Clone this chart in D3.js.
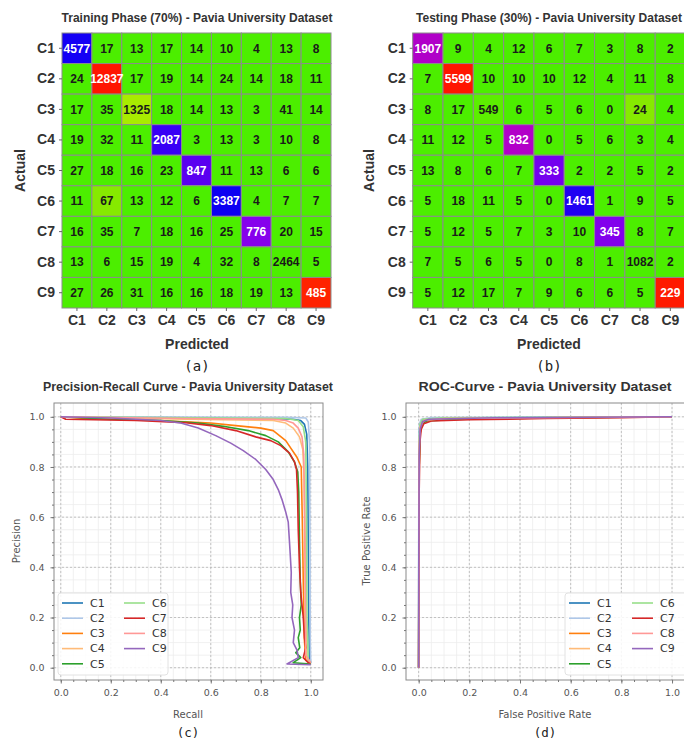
<!DOCTYPE html>
<html>
<head>
<meta charset="utf-8">
<script src="https://cdn.jsdelivr.net/npm/d3@7/dist/d3.min.js"></script>
<style>
  body { margin: 0; background: #fff; }
  svg { display: block; }
</style>
</head>
<body>
<svg id="fig" width="684" height="742"></svg>
<script>
var classes = ["C1", "C2", "C3", "C4", "C5", "C6", "C7", "C8", "C9"];

// confusion matrices, rows = actual, cols = predicted
var trainMatrix = [
  [4577, 17, 13, 17, 14, 10, 4, 13, 8],
  [24, 12837, 17, 19, 14, 24, 14, 18, 11],
  [17, 35, 1325, 18, 14, 13, 3, 41, 14],
  [19, 32, 11, 2087, 3, 13, 3, 10, 8],
  [27, 18, 16, 23, 847, 11, 13, 6, 6],
  [11, 67, 13, 12, 6, 3387, 4, 7, 7],
  [16, 35, 7, 18, 16, 25, 776, 20, 15],
  [13, 6, 15, 19, 4, 32, 8, 2464, 5],
  [27, 26, 31, 16, 16, 18, 19, 13, 485]
];
var testMatrix = [
  [1907, 9, 4, 12, 6, 7, 3, 8, 2],
  [7, 5599, 10, 10, 10, 12, 4, 11, 8],
  [8, 17, 549, 6, 5, 6, 0, 24, 4],
  [11, 12, 5, 832, 0, 5, 6, 3, 4],
  [13, 8, 6, 7, 333, 2, 2, 5, 2],
  [5, 18, 11, 5, 0, 1461, 1, 9, 5],
  [5, 12, 5, 7, 3, 10, 345, 8, 7],
  [7, 5, 6, 5, 0, 8, 1, 1082, 2],
  [5, 12, 17, 7, 9, 6, 6, 5, 229]
];

// diagonal cell colours as they come out of the original colormap
var trainDiagColors = ["#1400f5", "#ff1500", "#a8ec00", "#3800f5", "#5a00f0", "#0c00f2", "#8600ec", "#4cee00", "#ff2200"];
var testDiagColors = ["#b000c8", "#ff1500", "#5cee00", "#b200c8", "#7400ee", "#2000f2", "#8200ec", "#4cee00", "#ff1a00"];
var trainOffThreshold = 50;
var testOffThreshold = 20;

var tickVals = [0, 0.2, 0.4, 0.6, 0.8, 1.0];
var seriesColors = ["#1f77b4", "#aec7e8", "#ff7f0e", "#ffbb78", "#2ca02c", "#98df8a", "#d62728", "#ff9896", "#9467bd"];

// precision-recall points [recall, precision]
var prC1 = [[0, 1], [0.2, 0.998], [0.5, 0.996], [0.8, 0.994], [0.93, 0.99], [0.96, 0.985], [0.975, 0.97], [0.984, 0.93], [0.988, 0.8], [0.99, 0.5], [0.992, 0.2], [0.995, 0.04], [1, 0.02]];
var prC2 = [[0, 1], [0.5, 0.999], [0.9, 0.998], [0.98, 0.995], [0.99, 0.98], [0.995, 0.9], [0.997, 0.5], [0.998, 0.1], [1, 0.02]];
var prC3 = [[0, 1], [0.1, 0.993], [0.3, 0.988], [0.5, 0.98], [0.6, 0.975], [0.7, 0.965], [0.8, 0.955], [0.85, 0.945], [0.9, 0.905], [0.944, 0.84], [0.962, 0.8], [0.966, 0.6], [0.97, 0.35], [0.974, 0.12], [0.98, 0.03], [1, 0.02]];
var prC4 = [[0, 1], [0.5, 0.99], [0.85, 0.985], [0.9, 0.975], [0.93, 0.955], [0.955, 0.92], [0.968, 0.87], [0.974, 0.75], [0.978, 0.5], [0.98, 0.2], [0.985, 0.03], [1, 0.02]];
var prC5 = [[0, 1], [0.2, 0.99], [0.4, 0.985], [0.55, 0.975], [0.65, 0.962], [0.75, 0.945], [0.82, 0.925], [0.87, 0.9], [0.91, 0.86], [0.935, 0.82], [0.948, 0.78], [0.952, 0.7], [0.955, 0.5], [0.958, 0.35], [0.962, 0.25], [0.955, 0.2], [0.958, 0.15], [0.95, 0.12], [0.956, 0.08], [0.94, 0.06], [0.96, 0.04], [0.93, 0.02], [1, 0.015]];
var prC6 = [[0, 1], [0.5, 0.996], [0.9, 0.993], [0.95, 0.985], [0.97, 0.96], [0.98, 0.9], [0.983, 0.6], [0.985, 0.2], [0.99, 0.03], [1, 0.02]];
var prC7 = [[0, 1], [0.02, 0.99], [0.3, 0.985], [0.5, 0.976], [0.6, 0.965], [0.7, 0.945], [0.78, 0.92], [0.84, 0.905], [0.88, 0.885], [0.915, 0.855], [0.935, 0.82], [0.943, 0.79], [0.947, 0.7], [0.95, 0.55], [0.955, 0.4], [0.96, 0.3], [0.97, 0.2], [0.975, 0.12], [0.98, 0.08], [0.97, 0.04], [0.99, 0.02], [1, 0.02]];
var prC8 = [[0, 1], [0.5, 0.993], [0.85, 0.99], [0.9, 0.985], [0.93, 0.975], [0.95, 0.955], [0.965, 0.92], [0.972, 0.85], [0.975, 0.6], [0.978, 0.3], [0.98, 0.05], [1, 0.02]];
var prC9 = [[0, 1], [0.2, 0.995], [0.4, 0.985], [0.48, 0.975], [0.55, 0.955], [0.62, 0.925], [0.68, 0.895], [0.73, 0.865], [0.78, 0.83], [0.82, 0.79], [0.85, 0.75], [0.87, 0.71], [0.885, 0.67], [0.9, 0.62], [0.91, 0.58], [0.915, 0.5], [0.918, 0.45], [0.922, 0.38], [0.92, 0.3], [0.928, 0.25], [0.925, 0.2], [0.935, 0.15], [0.93, 0.1], [0.945, 0.07], [0.95, 0.04], [0.905, 0.015], [1, 0.012]];

// roc points [fpr, tpr]
var rocC1 = [[0, 0], [0.0005, 0.5], [0.001, 0.8], [0.003, 0.95], [0.008, 0.98], [0.02, 0.99], [0.1, 0.995], [0.5, 0.998], [1, 1]];
var rocC2 = [[0, 0], [0.0003, 0.6], [0.001, 0.9], [0.003, 0.97], [0.01, 0.99], [0.05, 0.997], [1, 1]];
var rocC3 = [[0, 0], [0.001, 0.5], [0.002, 0.8], [0.005, 0.93], [0.012, 0.97], [0.03, 0.985], [0.2, 0.993], [0.6, 0.997], [1, 1]];
var rocC4 = [[0, 0], [0.0008, 0.6], [0.002, 0.88], [0.006, 0.96], [0.02, 0.985], [0.1, 0.993], [1, 1]];
var rocC5 = [[0, 0], [0.001, 0.5], [0.002, 0.8], [0.005, 0.93], [0.012, 0.97], [0.03, 0.983], [0.2, 0.992], [0.6, 0.996], [1, 1]];
var rocC6 = [[0, 0], [0.0005, 0.6], [0.002, 0.9], [0.005, 0.97], [0.015, 0.99], [0.1, 0.996], [1, 1]];
var rocC7 = [[0, 0], [0.001, 0.35], [0.002, 0.7], [0.005, 0.9], [0.01, 0.95], [0.02, 0.972], [0.05, 0.983], [0.2, 0.988], [0.5, 0.993], [0.8, 0.996], [1, 1]];
var rocC8 = [[0, 0], [0.0008, 0.6], [0.002, 0.88], [0.006, 0.96], [0.02, 0.985], [0.1, 0.993], [1, 1]];
var rocC9 = [[0, 0], [0.0004, 0.4], [0.002, 0.85], [0.006, 0.95], [0.015, 0.98], [0.04, 0.99], [0.3, 0.996], [1, 1]];

var prSeries = [prC1, prC2, prC3, prC4, prC5, prC6, prC7, prC8, prC9];
var rocSeries = [rocC1, rocC2, rocC3, rocC4, rocC5, rocC6, rocC7, rocC8, rocC9];

var svg = d3.select("#fig");
var cmFont = "'Liberation Sans', Arial, sans-serif";
var mplFont = "'DejaVu Sans', sans-serif";

function drawMatrix(m, diagColors, threshold, box) {
  var g = svg.append("g");
  var x = d3.scaleBand().domain(classes).range([box.left, box.right]);
  var y = d3.scaleBand().domain(classes).range([box.top, box.bottom]);
  var offColor = d3.scaleThreshold().domain([threshold]).range(["#4cee00", "#86ea00"]);

  var cells = [];
  m.forEach(function(row, i) {
    row.forEach(function(v, j) {
      cells.push({ r: i, c: j, v: v });
    });
  });

  function fill(d) {
    return d.r === d.c ? diagColors[d.r] : offColor(d.v);
  }
  function light(col) {
    var hsl = d3.hsl(col);
    return hsl.h > 60 && hsl.h < 150;
  }

  g.selectAll("rect.cell")
    .data(cells)
    .enter().append("rect")
    .attr("class", "cell")
    .attr("x", function(d) { return x(classes[d.c]); })
    .attr("y", function(d) { return y(classes[d.r]); })
    .attr("width", x.bandwidth())
    .attr("height", y.bandwidth())
    .attr("fill", fill)
    .attr("stroke", "#8c8c8c")
    .attr("stroke-width", 1);

  g.selectAll("text.val")
    .data(cells)
    .enter().append("text")
    .attr("class", "val")
    .attr("x", function(d) { return x(classes[d.c]) + x.bandwidth() / 2; })
    .attr("y", function(d) { return y(classes[d.r]) + y.bandwidth() / 2; })
    .attr("dy", "0.36em")
    .attr("text-anchor", "middle")
    .style("font-family", cmFont)
    .style("font-weight", "bold")
    .style("font-size", "12px")
    .attr("fill", function(d) { return light(fill(d)) ? "#1a1a1a" : "#ffffff"; })
    .text(function(d) { return d.v; });

  var left = g.append("g")
    .attr("transform", "translate(" + box.left + ",0)")
    .call(d3.axisLeft(y).tickSize(3).tickPadding(4));
  var bottom = g.append("g")
    .attr("transform", "translate(0," + box.bottom + ")")
    .call(d3.axisBottom(x).tickSize(3).tickPadding(4));
  [left, bottom].forEach(function(a) {
    a.select(".domain").remove();
    a.selectAll("line").attr("stroke", "#666");
    a.selectAll("text")
      .style("font-family", cmFont)
      .style("font-weight", "bold")
      .style("font-size", "14px")
      .attr("fill", "#333");
  });

  g.append("text")
    .attr("x", box.titleX)
    .attr("y", 22)
    .attr("text-anchor", "middle")
    .style("font-family", cmFont)
    .style("font-weight", "bold")
    .style("font-size", "12px")
    .attr("fill", "#333")
    .text(box.title);

  g.append("text")
    .attr("x", box.titleX)
    .attr("y", 349)
    .attr("text-anchor", "middle")
    .style("font-family", cmFont)
    .style("font-weight", "bold")
    .style("font-size", "14px")
    .attr("fill", "#333")
    .text("Predicted");

  g.append("text")
    .attr("transform", "translate(" + box.ylabX + "," + (box.top + box.bottom) / 2 + ") rotate(-90)")
    .attr("text-anchor", "middle")
    .style("font-family", cmFont)
    .style("font-weight", "bold")
    .style("font-size", "14px")
    .attr("fill", "#333")
    .text("Actual");

  g.append("text")
    .attr("x", box.titleX)
    .attr("y", 371)
    .attr("text-anchor", "middle")
    .style("font-family", "'DejaVu Sans Mono', monospace")
    .style("font-size", "14px")
    .attr("fill", "#222")
    .text(box.tag);
}

drawMatrix(trainMatrix, trainDiagColors, trainOffThreshold, {
  left: 62, right: 331, top: 33, bottom: 308,
  titleX: 197, ylabX: 25, title: "Training Phase (70%) - Pavia University Dataset", tag: "(a)"
});
drawMatrix(testMatrix, testDiagColors, testOffThreshold, {
  left: 412.7, right: 685.5, top: 33, bottom: 308,
  titleX: 549, ylabX: 374, title: "Testing Phase (30%) - Pavia University Dataset", tag: "(b)"
});

function drawCurves(series, box) {
  var g = svg.append("g");
  var x = d3.scaleLinear().domain(box.xDomain).range([box.left, box.right]);
  var y = d3.scaleLinear().domain([-0.049, 1.055]).range([680, 403]);
  var minor = d3.range(0, 1.0001, 0.05);

  var clipId = "clip" + box.tag.replace(/[()]/g, "");
  g.append("clipPath").attr("id", clipId)
    .append("rect")
    .attr("x", box.left).attr("y", 403)
    .attr("width", box.right - box.left).attr("height", 277);

  // minor grid
  g.append("g").selectAll("line")
    .data(minor).enter().append("line")
    .attr("x1", function(d) { return x(d); }).attr("x2", function(d) { return x(d); })
    .attr("y1", 403).attr("y2", 680)
    .attr("stroke", "#ececec").attr("stroke-width", 0.8);
  g.append("g").selectAll("line")
    .data(minor).enter().append("line")
    .attr("y1", function(d) { return y(d); }).attr("y2", function(d) { return y(d); })
    .attr("x1", box.left).attr("x2", box.right)
    .attr("stroke", "#ececec").attr("stroke-width", 0.8);

  // major grid
  g.append("g").selectAll("line")
    .data(tickVals).enter().append("line")
    .attr("x1", function(d) { return x(d); }).attr("x2", function(d) { return x(d); })
    .attr("y1", 403).attr("y2", 680)
    .attr("stroke", "#b5b5b5").attr("stroke-width", 0.8).attr("stroke-dasharray", "2,2");
  g.append("g").selectAll("line")
    .data(tickVals).enter().append("line")
    .attr("y1", function(d) { return y(d); }).attr("y2", function(d) { return y(d); })
    .attr("x1", box.left).attr("x2", box.right)
    .attr("stroke", "#b5b5b5").attr("stroke-width", 0.8).attr("stroke-dasharray", "2,2");

  var line = d3.line()
    .x(function(d) { return x(d[0]); })
    .y(function(d) { return y(d[1]); });

  g.append("g")
    .attr("clip-path", "url(#" + clipId + ")")
    .selectAll("path")
    .data(series).enter().append("path")
    .attr("d", line)
    .attr("fill", "none")
    .attr("stroke", function(d, i) { return seriesColors[i]; })
    .attr("stroke-width", 1.6)
    .attr("stroke-linejoin", "round");

  g.append("rect")
    .attr("x", box.left).attr("y", 403)
    .attr("width", box.right - box.left).attr("height", 277)
    .attr("fill", "none").attr("stroke", "#8a8a8a").attr("stroke-width", 1);

  // axes with minor ticks
  var ax = g.append("g").attr("transform", "translate(0,680)")
    .call(d3.axisBottom(x).tickValues(tickVals).tickFormat(d3.format(".1f")).tickSize(3.5).tickPadding(6));
  var axm = g.append("g").attr("transform", "translate(0,680)")
    .call(d3.axisBottom(x).tickValues(minor).tickFormat("").tickSize(2));
  var ay = g.append("g").attr("transform", "translate(" + box.left + ",0)")
    .call(d3.axisLeft(y).tickValues(tickVals).tickFormat(d3.format(".1f")).tickSize(3.5).tickPadding(6));
  var aym = g.append("g").attr("transform", "translate(" + box.left + ",0)")
    .call(d3.axisLeft(y).tickValues(minor).tickFormat("").tickSize(2));
  [ax, axm, ay, aym].forEach(function(a) {
    a.select(".domain").remove();
    a.selectAll("line").attr("stroke", "#777");
    a.selectAll("text")
      .style("font-family", mplFont)
      .style("font-size", "9.5px")
      .attr("fill", "#555");
  });

  var mid = box.titleX;
  g.append("text")
    .attr("x", mid).attr("y", 391)
    .attr("text-anchor", "middle")
    .style("font-family", cmFont)
    .style("font-weight", "bold")
    .style("font-size", "13px")
    .attr("fill", "#333")
    .attr("textLength", box.titleLen)
    .attr("lengthAdjust", "spacingAndGlyphs")
    .text(box.title);

  g.append("text")
    .attr("x", mid).attr("y", 718)
    .attr("text-anchor", "middle")
    .style("font-family", mplFont)
    .style("font-size", "10px")
    .attr("fill", "#555")
    .text(box.xLabel);

  g.append("text")
    .attr("transform", "translate(" + box.ylabX + ",541) rotate(-90)")
    .attr("text-anchor", "middle")
    .style("font-family", mplFont)
    .style("font-size", "10px")
    .attr("fill", "#555")
    .text(box.yLabel);

  // tag sits at the very bottom, keep it small enough to fit
  g.append("text")
    .attr("x", mid).attr("y", 737)
    .attr("text-anchor", "middle")
    .style("font-family", "'DejaVu Sans Mono', monospace")
    .style("font-size", "12.5px")
    .attr("fill", "#222")
    .text(box.tag);

  // legend
  var lg = g.append("g").attr("transform", "translate(" + box.legX + ",593)");
  lg.append("rect")
    .attr("width", box.legW).attr("height", 82)
    .attr("rx", 3)
    .attr("fill", "#fff").attr("fill-opacity", 0.85)
    .attr("stroke", "#e2e2e2");
  var items = lg.selectAll("g.item")
    .data(classes).enter().append("g")
    .attr("class", "item")
    .attr("transform", function(d, i) {
      var col = i < 5 ? 0 : 1;
      var row = i < 5 ? i : i - 5;
      return "translate(" + (4 + col * box.legColW) + "," + (10 + row * 15.2) + ")";
    });
  items.append("line")
    .attr("x1", 0).attr("x2", 21)
    .attr("stroke", function(d, i) { return seriesColors[i]; })
    .attr("stroke-width", 1.6);
  items.append("text")
    .attr("x", 28).attr("dy", "0.35em")
    .style("font-family", mplFont)
    .style("font-size", "11px")
    .attr("fill", "#333")
    .text(function(d) { return d; });
}

drawCurves(prSeries, {
  left: 54, right: 323, xDomain: [-0.027, 1.049],
  titleX: 188, titleLen: 290, ylabX: 20, legX: 58, legW: 110, legColW: 62,
  title: "Precision-Recall Curve - Pavia University Dataset",
  xLabel: "Recall", yLabel: "Precision", tag: "(c)"
});
drawCurves(rocSeries, {
  left: 406, right: 684.7, xDomain: [-0.05, 1.05],
  titleX: 545, titleLen: 253, ylabX: 370, legX: 565, legW: 125, legColW: 63,
  title: "ROC-Curve - Pavia University Dataset",
  xLabel: "False Positive Rate", yLabel: "True Positive Rate", tag: "(d)"
});
</script>
</body>
</html>
